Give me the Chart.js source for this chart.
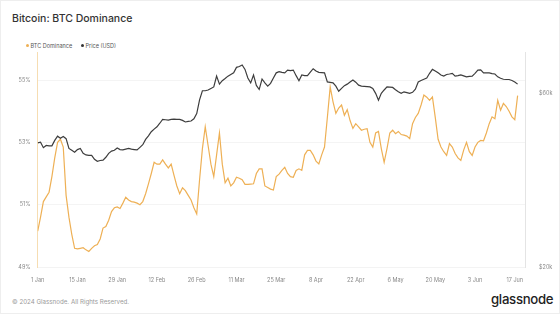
<!DOCTYPE html>
<html>
<head>
<meta charset="utf-8">
<script src="https://cdn.jsdelivr.net/npm/chart.js@4.4.1/dist/chart.umd.min.js"></script>
<style>
  html, body { margin: 0; padding: 0; background: #fff; }
  body { width: 560px; height: 314px; position: relative; overflow: hidden; font-family: Inter, "Noto Sans", sans-serif; }
  .card { position: absolute; left: 0; top: 0; width: 558px; height: 312px; border: 1px solid #eeeeee; }
  #title { position: absolute; left: 12px; top: 12px; font-size: 10.5px; line-height: 14px; font-weight: 500; color: #333; }
  .legend { position: absolute; top: 42px; font-size: 5.5px; line-height: 8px; color: #555; }
  .legend i { display: inline-block; width: 3px; height: 3px; border-radius: 50%; margin-right: 2px; vertical-align: 1px; }
  #footer { position: absolute; left: 12px; top: 297px; font-size: 6.2px; line-height: 9px; color: #9a9a9a; }
  #logo { position: absolute; left: 491px; top: 291px; font-size: 13.2px; line-height: 16px; font-weight: 500; color: #222; letter-spacing: -0.3px; }
  #wrap { position: absolute; left: 0; top: 40px; width: 560px; height: 244px; }
</style>
</head>
<body>
<div class="card"></div>
<div id="title">Bitcoin: BTC Dominance</div>
<div class="legend" style="left:25.5px"><i style="background:#eeb055"></i>BTC Dominance</div>
<div class="legend" style="left:80.5px"><i style="background:#333"></i>Price (USD)</div>
<div id="wrap"><canvas id="chart"></canvas></div>
<div id="footer">© 2024 Glassnode. All Rights Reserved.</div>
<div id="logo">glassnode</div>
<script>
// days since 1 Jan 2024
var xTickDays = [0, 14, 28, 42, 56, 70, 84, 98, 112, 126, 140, 154, 168];
var xTickLabels = ['1 Jan', '15 Jan', '29 Jan', '12 Feb', '26 Feb', '11 Mar', '25 Mar', '8 Apr', '22 Apr', '6 May', '20 May', '3 Jun', '17 Jun'];

// BTC dominance, % (one value per day from 1 Jan)
var dominance = [
  50.15, 50.6, 51.1, 51.25, 51.4, 51.9, 52.5, 53.0, 53.1, 52.85,
  51.3, 50.6, 50.05, 49.6, 49.58, 49.6, 49.62, 49.55, 49.5, 49.6,
  49.68, 49.72, 49.9, 50.25, 50.3, 50.5, 50.78, 50.9, 50.93, 50.88,
  51.05, 51.24, 51.15, 51.1, 51.08, 51.05, 51.0, 51.1, 51.35, 51.67,
  52.0, 52.36, 52.3, 52.3, 52.44, 52.3, 52.18, 52.3, 51.94, 51.6,
  51.35, 51.54, 51.45, 51.3, 51.15, 50.9, 50.7, 51.8, 52.8, 53.5,
  52.9, 52.3, 51.9, 52.6, 53.3, 52.3, 51.7, 51.85, 51.6, 51.7,
  51.88, 51.85, 51.8, 51.65, 51.65, 51.66, 51.67, 52.0, 52.15, 52.15,
  51.6, 51.55, 51.5, 51.47, 51.9, 51.98, 52.1, 52.2, 52.0, 51.9,
  51.88, 52.1, 52.15, 52.1, 52.6, 52.74, 52.74, 52.6, 52.4, 52.31,
  52.6, 52.85, 53.8, 54.78, 54.3, 53.93, 54.1, 54.2, 53.87, 54.05,
  53.7, 53.45, 53.6, 53.5, 53.39, 53.42, 53.44, 53.0, 52.85, 53.3,
  53.35, 52.8, 52.36, 52.8, 53.3, 53.39, 53.28, 53.35, 53.25, 53.23,
  53.2, 53.12, 53.6, 53.8, 53.93, 54.2, 54.52, 54.45, 54.35, 54.46,
  53.8, 53.1, 52.85, 52.7, 52.58, 52.96, 52.85, 52.64, 52.5, 52.42,
  52.75, 53.0, 52.7, 52.58, 52.85, 53.0, 53.06, 53.05, 53.3, 53.6,
  53.82, 53.76, 54.35, 54.03, 54.25, 54.15, 54.0, 53.82, 53.73, 54.5
];

// BTC price, thousands of USD (one value per day from 1 Jan)
var priceK = [
  43.8, 44.0, 42.5, 43.1, 43.0, 43.0, 44.5, 45.7, 45.1, 45.6,
  45.0, 42.3, 41.8, 41.3, 42.0, 42.3, 41.0, 40.6, 40.5, 40.5,
  39.5, 39.0, 39.2, 39.3, 40.0, 41.0, 41.6, 41.8, 42.4, 42.0,
  41.9, 42.1, 42.3, 42.1, 42.0, 41.9, 42.6, 43.3, 44.8, 45.8,
  47.0, 47.8, 48.5, 49.6, 50.8, 50.7, 50.6, 50.8, 50.9, 50.8,
  50.8, 50.5, 50.0, 50.2, 50.3, 51.0, 52.7, 57.5, 60.9, 60.9,
  61.2, 61.8, 62.4, 66.8, 63.5, 64.9, 65.8, 66.8, 67.5, 68.2,
  70.6, 71.0, 71.7, 69.7, 66.0, 64.0, 67.3, 63.0, 61.4, 65.6,
  64.0, 62.7, 63.8, 66.0, 68.2, 68.7, 68.4, 68.2, 69.4, 69.2,
  69.4, 67.0, 64.9, 67.3, 67.0, 67.0, 68.5, 70.0, 69.0, 68.4,
  68.3, 68.2, 64.4, 64.2, 64.0, 62.7, 60.7, 61.8, 62.9, 63.5,
  64.4, 65.2, 64.3, 63.1, 62.7, 62.6, 62.5, 62.4, 61.8, 59.9,
  57.4, 59.9, 61.2, 62.4, 62.3, 62.2, 61.3, 60.5, 59.9, 60.5,
  60.2, 59.9, 60.3, 61.5, 64.4, 65.0, 65.5, 66.0, 68.0, 69.7,
  69.0, 68.2, 67.3, 66.8, 67.5, 67.7, 68.0, 66.8, 67.0, 67.3,
  66.9, 66.5, 66.7, 66.8, 68.0, 69.4, 69.5, 68.2, 68.2, 68.2,
  67.9, 67.7, 66.5, 65.9, 65.5, 65.4, 65.4, 65.0, 64.4, 63.5
];

var domTicks = [49, 51, 53, 55];
var priceTicks = [20000, 60000];

var domPoints = dominance.map(function(v, i) { return { x: i, y: v }; });
var pricePoints = priceK.map(function(v, i) { return { x: i, y: v * 1000 }; });

var tickFont = { family: 'Inter, "Noto Sans", sans-serif', size: 5.5 };

new Chart(document.getElementById('chart'), {
  type: 'line',
  data: {
    datasets: [{
      label: 'Price (USD)',
      data: pricePoints,
      yAxisID: 'price',
      borderColor: '#3d3d3d',
      borderWidth: 1.2,
      pointRadius: 0,
      tension: 0
    }, {
      label: 'BTC Dominance',
      data: domPoints,
      yAxisID: 'dom',
      borderColor: '#eeb055',
      borderWidth: 1.2,
      pointRadius: 0,
      tension: 0
    }]
  },
  options: {
    responsive: true,
    maintainAspectRatio: false,
    animation: false,
    layout: { padding: { left: 0, right: 0, top: 12, bottom: 0 } },
    plugins: {
      legend: { display: false },
      tooltip: { enabled: false }
    },
    scales: {
      x: {
        type: 'linear',
        min: 0,
        max: 171.6,
        afterBuildTicks: function(axis) {
          axis.ticks = xTickDays.map(function(d) { return { value: d }; });
        },
        afterFit: function(scale) { scale.height = 17; },
        ticks: {
          autoSkip: false,
          maxRotation: 0,
          padding: 10,
          color: '#888',
          font: tickFont,
          callback: function(v) {
            var i = xTickDays.indexOf(v);
            return i >= 0 ? xTickLabels[i] : '';
          }
        },
        grid: { display: false, drawTicks: false },
        border: { color: '#f3f3f3' }
      },
      dom: {
        type: 'linear',
        position: 'left',
        min: 49,
        max: 55.9,
        afterBuildTicks: function(axis) {
          axis.ticks = domTicks.map(function(v) { return { value: v }; });
        },
        afterFit: function(scale) { scale.width = 37.7; },
        ticks: {
          padding: 7,
          color: '#888',
          font: tickFont,
          callback: function(v) { return v + '%'; }
        },
        grid: { color: '#f4f4f4', drawTicks: false },
        border: { color: '#f6ddb2', width: 1 }
      },
      price: {
        type: 'logarithmic',
        position: 'right',
        min: 20000,
        max: 77800,
        afterBuildTicks: function(axis) {
          axis.ticks = priceTicks.map(function(v) { return { value: v }; });
        },
        afterFit: function(scale) { scale.width = 35; },
        ticks: {
          padding: 6,
          color: '#888',
          font: tickFont,
          callback: function(v) { return '$' + (v / 1000) + 'k'; }
        },
        grid: { display: false },
        border: { color: '#e4e4e4', width: 1 }
      }
    }
  }
});
</script>
</body>
</html>
